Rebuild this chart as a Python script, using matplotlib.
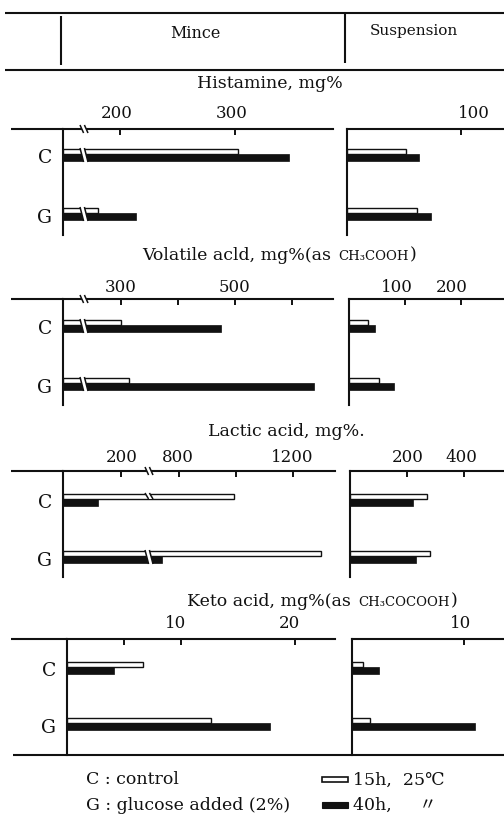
import numpy as np
import matplotlib
matplotlib.use("Agg")
import matplotlib.pyplot as plt
import matplotlib.transforms as mtransforms
from matplotlib.patches import Rectangle, Polygon
from matplotlib.lines import Line2D
from matplotlib.text import Annotation

# ---------------- data ----------------
categories = ["C", "G"]

hist_mince_15h = [303, 181]
hist_mince_40h = [347, 214]
hist_susp_15h = [52, 61]
hist_susp_40h = [63, 74]

vol_mince_15h = [300, 314]
vol_mince_40h = [475, 639]
vol_susp_15h = [34, 54]
vol_susp_40h = [46, 80]

lac_mince_15h = [993, 1298]
lac_mince_40h = [121, 740]
lac_susp_15h = [270, 281]
lac_susp_40h = [221, 232]

keto_mince_15h = [6.7, 12.6]
keto_mince_40h = [4.1, 17.8]
keto_susp_15h = [1.0, 1.6]
keto_susp_40h = [2.4, 11.0]

hist_mince_ticks = [200, 300]
hist_mince_ticklabels = ["200", "300"]
hist_susp_ticks = [100]
hist_susp_ticklabels = ["100"]
vol_mince_ticks = [300, 400, 500, 600]
vol_mince_ticklabels = ["300", "", "500", ""]
vol_susp_ticks = [100, 200]
vol_susp_ticklabels = ["100", "200"]
lac_mince_ticks = [200, 800, 1000, 1200]
lac_mince_ticklabels = ["200", "800", "", "1200"]
lac_susp_ticks = [200, 400]
lac_susp_ticklabels = ["200", "400"]
keto_mince_ticks = [5, 10, 20]
keto_mince_ticklabels = ["", "10", "20"]
keto_susp_ticks = [10]
keto_susp_ticklabels = ["10"]

titles = ["Histamine, mg%", "Volatile acld, mg%(as ", "Lactic acid, mg%.", "Keto acid, mg%(as "]
title_chem = ["", "CH\u2083COOH", "", "CH\u2083COCOOH"]
columns = ["Mince", "Suspension"]
legend_cat = ["C : control", "G : glucose added (2%)"]
legend_series = ["15h,  25\u2103", "40h,     \u3003"]

# ---------------- layout ----------------
W, H = 504, 819
fig = plt.figure(figsize=(W / 100, H / 100), dpi=100)
fig.patch.set_facecolor("white")
PX = mtransforms.Affine2D().scale(1 / W, -1 / H).translate(0, 1) + fig.transFigure
FAM = ["DejaVu Serif", "Noto Sans CJK JP", "DejaVu Sans"]
INK = "#111111"
LW = 1.5
TXT = 12.5


def make_scale(points):
    v = np.array([q[0] for q in points], float)
    p = np.array([q[1] for q in points], float)
    s_lo = (p[1] - p[0]) / (v[1] - v[0])
    s_hi = (p[-1] - p[-2]) / (v[-1] - v[-2])

    def fwd(x):
        x = np.asarray(x, float)
        y = np.interp(x, v, p)
        y = np.where(x < v[0], p[0] + (x - v[0]) * s_lo, y)
        y = np.where(x > v[-1], p[-1] + (x - v[-1]) * s_hi, y)
        return y

    def inv(y):
        y = np.asarray(y, float)
        x = np.interp(y, p, v)
        x = np.where(y < p[0], v[0] + (y - p[0]) / s_lo, x)
        x = np.where(y > p[-1], v[-1] + (y - p[-1]) / s_hi, x)
        return x

    return fwd, inv


panels = [
    dict(top=129, h=106, c_off=25, g_off=84, tick_y=113, title_xy=(197, 84),
         mince=dict(x0=63, right=333, scale=[(0, 0), (100, 20), (170, 22.5), (200, 57)],
                    d15=hist_mince_15h, d40=hist_mince_40h, ticks=hist_mince_ticks,
                    labels=hist_mince_ticklabels, dx=[-3, -3], brk=21),
         susp=dict(x0=347, right=504, scale=[(0, 0), (100, 114)],
                   d15=hist_susp_15h, d40=hist_susp_40h, ticks=hist_susp_ticks,
                   labels=hist_susp_ticklabels, dx=[13], brk=None)),
    dict(top=299, h=106, c_off=26, g_off=84, tick_y=288, title_xy=(142, 256),
         mince=dict(x0=63, right=333, scale=[(0, 0), (100, 19), (235, 21), (300, 58)],
                    d15=vol_mince_15h, d40=vol_mince_40h, ticks=vol_mince_ticks,
                    labels=vol_mince_ticklabels, dx=[0, 0, 0, 0], brk=21),
         susp=dict(x0=349, right=504, scale=[(0, 0), (100, 56)],
                   d15=vol_susp_15h, d40=vol_susp_40h, ticks=vol_susp_ticks,
                   labels=vol_susp_ticklabels, dx=[-8, -9], brk=None)),
    dict(top=471, h=106, c_off=28, g_off=85, tick_y=458, title_xy=(208, 431),
         mince=dict(x0=63, right=335, scale=[(0, 0), (293, 85), (698, 87), (800, 116)],
                    d15=lac_mince_15h, d40=lac_mince_40h, ticks=lac_mince_ticks,
                    labels=lac_mince_ticklabels, dx=[1, -1, 0, -1], brk=86),
         susp=dict(x0=350, right=504, scale=[(0, 0), (200, 57)],
                   d15=lac_susp_15h, d40=lac_susp_40h, ticks=lac_susp_ticks,
                   labels=lac_susp_ticklabels, dx=[1, -3], brk=None)),
    dict(top=639, h=116, c_off=28, g_off=84, tick_y=623, title_xy=(187, 602),
         mince=dict(x0=67, right=335, scale=[(0, 0), (10, 114)],
                    d15=keto_mince_15h, d40=keto_mince_40h, ticks=keto_mince_ticks,
                    labels=keto_mince_ticklabels, dx=[0, -5, -6], brk=None),
         susp=dict(x0=352, right=504, scale=[(0, 0), (10, 112)],
                   d15=keto_susp_15h, d40=keto_susp_40h, ticks=keto_susp_ticks,
                   labels=keto_susp_ticklabels, dx=[-3], brk=None)),
]

OPEN_H, SOLID_H = 5, 7


def fig_line(xs, ys, lw=LW, z=5):
    fig.add_artist(Line2D(xs, ys, transform=PX, color=INK, lw=lw, zorder=z,
                          solid_capstyle="butt"))


def draw_break(X, y1, y2):
    s = 1.8
    g = 2.2
    poly = [(X - g - s, y1), (X + g - s, y1), (X + g + s, y2), (X - g + s, y2)]
    fig.add_artist(Polygon(poly, closed=True, transform=PX, facecolor="white",
                           edgecolor="none", zorder=6))
    for dx in (-g, g):
        fig_line([X + dx - s, X + dx + s], [y1, y2], lw=1.1, z=7)


for idx, pan in enumerate(panels):
    top, h = pan["top"], pan["h"]
    for key in ("mince", "susp"):
        cfg = pan[key]
        x0, right = cfg["x0"], cfg["right"]
        ax = fig.add_axes([x0 / W, 1 - (top + h) / H, (right - x0) / W, h / H])
        ax.set_facecolor("none")
        fwd, inv = make_scale(cfg["scale"])
        ax.set_xscale("function", functions=(fwd, inv))
        y_open = [pan["c_off"] - OPEN_H / 2, pan["g_off"] - OPEN_H / 2]
        y_solid = [pan["c_off"] + SOLID_H / 2, pan["g_off"] + SOLID_H / 2]
        ax.barh(y_open, cfg["d15"], height=OPEN_H, left=0, color="white",
                edgecolor=INK, linewidth=1.0, zorder=3)
        ax.barh(y_solid, cfg["d40"], height=SOLID_H, left=0, color=INK,
                edgecolor=INK, linewidth=0.5, zorder=3)
        ax.set_xlim(0, float(inv(right - x0)))
        ax.set_ylim(h, 0)
        for side in ("bottom", "right"):
            ax.spines[side].set_visible(False)
        for side in ("top", "left"):
            ax.spines[side].set_linewidth(LW)
            ax.spines[side].set_color(INK)
        ax.xaxis.set_ticks_position("top")
        ax.set_xticks(cfg["ticks"])
        ax.minorticks_off()
        ax.tick_params(axis="x", direction="in", length=4, width=1.4, color=INK,
                       labeltop=False, labelbottom=False)
        if key == "mince":
            ax.set_yticks([pan["c_off"] + 2, pan["g_off"] + 3], categories)
            ax.tick_params(axis="y", length=0, pad=8, labelsize=13.5)
            for lab in ax.get_yticklabels():
                lab.set_fontfamily(FAM)
                lab.set_color(INK)
        else:
            ax.set_yticks([])
        # tick labels
        ltrans = mtransforms.blended_transform_factory(ax.transData, PX)
        for t, lab, dx in zip(cfg["ticks"], cfg["labels"], cfg["dx"]):
            if lab:
                tr = mtransforms.offset_copy(ltrans, fig=fig, x=dx, y=0, units="dots")
                ax.text(t, pan["tick_y"], lab, transform=tr, ha="center", va="center",
                        fontsize=12, family=FAM, color=INK, clip_on=False)
        # axis-line extension to the left for the mince column
        if key == "mince":
            fig_line([11, x0], [top, top])
        # breaks
        if cfg["brk"] is not None:
            X = x0 + cfg["brk"]
            draw_break(X, top - 4, top + 4)
            for i, off in enumerate([pan["c_off"], pan["g_off"]]):
                p15 = float(fwd(cfg["d15"][i]))
                p40 = float(fwd(cfg["d40"][i]))
                if p15 > cfg["brk"] + 3 and p40 > cfg["brk"] + 3:
                    draw_break(X, top + off - OPEN_H - 1, top + off + SOLID_H + 1)
                elif p15 > cfg["brk"] + 3:
                    draw_break(X, top + off - OPEN_H - 1, top + off)
                elif p40 > cfg["brk"] + 3:
                    draw_break(X, top + off, top + off + SOLID_H + 1)

    # panel title
    tx, ty = pan["title_xy"]
    t = fig.text(tx, ty, titles[idx], transform=PX, ha="left", va="center",
                 fontsize=TXT, family=FAM, color=INK)
    if title_chem[idx]:
        ann = Annotation(title_chem[idx], xy=(1, 0.5), xycoords=t, xytext=(1, 0),
                         textcoords="offset points", ha="left", va="center",
                         fontsize=9.5, family=FAM, color=INK)
        fig.add_artist(ann)
        ann2 = Annotation(")", xy=(1, 0.5), xycoords=ann, xytext=(1, 0.5),
                          textcoords="offset points", ha="left", va="center",
                          fontsize=TXT, family=FAM, color=INK)
        fig.add_artist(ann2)

# header table
fig_line([5, 504], [13, 13])
fig_line([5, 504], [70, 70])
fig_line([61, 61], [16, 65])
fig_line([345, 345], [13, 63])
fig.text(195, 33, columns[0], transform=PX, ha="center", va="center",
         fontsize=11.5, family=FAM, color=INK)
fig.text(414, 31, columns[1], transform=PX, ha="center", va="center",
         fontsize=11, family=FAM, color=INK)

# bottom line
fig_line([13, 504], [755, 755])

# legend
fig.text(86, 780, legend_cat[0], transform=PX, ha="left", va="center",
         fontsize=TXT, family=FAM, color=INK)
fig.text(86, 805, legend_cat[1], transform=PX, ha="left", va="center",
         fontsize=TXT, family=FAM, color=INK)
fig.add_artist(Rectangle((322, 777), 26, 5, transform=PX, facecolor="white",
                         edgecolor=INK, lw=1.2, zorder=5))
fig.add_artist(Rectangle((322, 802), 26, 6, transform=PX, facecolor=INK,
                         edgecolor=INK, lw=0.8, zorder=5))
fig.text(353, 780, legend_series[0], transform=PX, ha="left", va="center",
         fontsize=TXT, family=FAM, color=INK)
fig.text(353, 805, legend_series[1], transform=PX, ha="left", va="center",
         fontsize=TXT, family=FAM, color=INK)

fig.savefig("out.png", dpi=100, facecolor="white")
